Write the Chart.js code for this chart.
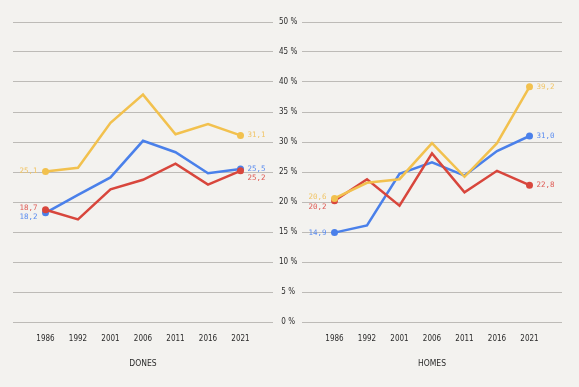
<!DOCTYPE html>
<html>
<head>
<meta charset="utf-8">
<script src="https://cdn.jsdelivr.net/npm/chart.js@4.4.1/dist/chart.umd.min.js"></script>
<style>
  html, body { margin: 0; padding: 0; background: #f3f2ef; }
  #wrap { position: relative; width: 579px; height: 387px; background: #f3f2ef; }
  #c1box { position: absolute; left: 0; top: 0; width: 302px; height: 387px; }
  #c2box { position: absolute; left: 302px; top: 0; width: 277px; height: 387px; }
</style>
</head>
<body>
<div id="wrap">
  <div id="c1box"><canvas id="c1"></canvas></div>
  <div id="c2box"><canvas id="c2"></canvas></div>
</div>
<script>
// ---- data ----
const years = ['1986', '1992', '2001', '2006', '2011', '2016', '2021'];
const yTicks = [0, 5, 10, 15, 20, 25, 30, 35, 40, 45, 50];
const panelTitles = ['DONES', 'HOMES'];

const donesYellow = [25.1, 25.7, 33.2, 37.9, 31.3, 33.0, 31.1];
const donesBlue   = [18.2, 21.2, 24.1, 30.2, 28.3, 24.8, 25.5];
const donesRed    = [18.7, 17.1, 22.1, 23.7, 26.4, 22.9, 25.2];

const homesYellow = [20.6, 23.2, 23.8, 29.8, 24.2, 29.8, 39.2];
const homesBlue   = [14.9, 16.1, 24.7, 26.6, 24.4, 28.5, 31.0];
const homesRed    = [20.2, 23.8, 19.4, 28.1, 21.6, 25.2, 22.8];

// ---- styles ----
const COLORS = { yellow: '#f2c14e', blue: '#4a80ea', red: '#d8463c' };
const LABEL_COLORS = { yellow: '#f1c567', blue: '#5a8cf0', red: '#df5b55' };
const GRID = '#bdbbb7';
const TICK_FONT = "'DejaVu Sans Condensed', 'Liberation Sans Narrow', 'DejaVu Sans', sans-serif";
const LABEL_FONT = "'DejaVu Sans Mono', 'Liberation Mono', monospace";

function fmt(v) { return v.toFixed(1).replace('.', ','); }

function ds(values, key) {
  return {
    data: values.map((v, i) => ({ x: i, y: v })),
    borderColor: COLORS[key],
    backgroundColor: COLORS[key],
    borderWidth: 2.5,
    pointRadius: values.map((v, i) => (i === 0 || i === values.length - 1) ? 3.5 : 0),
    pointHoverRadius: 0,
    pointBorderWidth: 0,
    tension: 0,
    colorKey: key
  };
}

// Label plugin: draws value labels beside first & last points
const endLabels = {
  id: 'endLabels',
  afterDatasetsDraw(chart, args, opts) {
    const ctx = chart.ctx;
    ctx.save();
    ctx.font = '7.5px ' + LABEL_FONT;
    ctx.textBaseline = 'middle';
    chart.data.datasets.forEach((d, di) => {
      const meta = chart.getDatasetMeta(di);
      const n = meta.data.length;
      const first = meta.data[0], last = meta.data[n - 1];
      ctx.fillStyle = LABEL_COLORS[d.colorKey];
      const dyF = (opts.firstDy || [])[di] || 0;
      const dyL = (opts.lastDy || [])[di] || 0;
      ctx.textAlign = 'right';
      ctx.fillText(fmt(d.data[0].y), first.x - 8, first.y + dyF);
      ctx.textAlign = 'left';
      ctx.fillText(fmt(d.data[n - 1].y), last.x + 7, last.y + dyL);
    });
    ctx.restore();
  }
};

function makeChart(canvasId, title, datasets, showY, padding, labelOpts) {
  return new Chart(document.getElementById(canvasId), {
    type: 'line',
    data: { datasets },
    plugins: [endLabels],
    options: {
      responsive: true,
      maintainAspectRatio: false,
      animation: false,
      events: [],
      layout: { padding, autoPadding: false },
      plugins: {
        legend: { display: false },
        tooltip: { enabled: false },
        endLabels: labelOpts
      },
      scales: {
        x: {
          type: 'linear',
          min: -1, max: 7,
          grid: { display: false },
          border: { display: false },
          afterFit(scale) { scale.height = 65; },
          afterBuildTicks(scale) {
            scale.ticks = years.map((y, i) => ({ value: i }));
          },
          ticks: {
            autoSkip: false,
            maxRotation: 0,
            padding: 4,
            color: '#2b2b2b',
            font: { family: TICK_FONT, size: 8 },
            callback: (v) => years[v] !== undefined ? years[v] : ''
          },
          title: {
            display: true,
            text: title,
            color: '#2b2b2b',
            font: { family: TICK_FONT, size: 8.5 },
            padding: { top: 0, bottom: 18 }
          }
        },
        y: {
          position: showY ? 'right' : 'left',
          min: 0, max: 50,
          afterBuildTicks(scale) {
            scale.ticks = yTicks.map(v => ({ value: v }));
          },
          afterFit(scale) { scale.width = showY ? 29 : 0; },
          grid: { color: GRID, lineWidth: 1, drawTicks: false },
          border: { display: false },
          ticks: {
            display: showY,
            crossAlign: 'center',
            padding: 6,
            color: '#2b2b2b',
            font: { family: TICK_FONT, size: 8 },
            callback: (v) => v + ' %'
          }
        }
      }
    }
  });
}

makeChart('c1', panelTitles[0],
  [ds(donesYellow, 'yellow'), ds(donesRed, 'red'), ds(donesBlue, 'blue')],
  true, { left: 13, right: 0, top: 22, bottom: 0 },
  { firstDy: [0, -2, 4], lastDy: [0, 7, 0] });

makeChart('c2', panelTitles[1],
  [ds(homesYellow, 'yellow'), ds(homesRed, 'red'), ds(homesBlue, 'blue')],
  false, { left: 0, right: 17, top: 22, bottom: 0 },
  { firstDy: [-1, 6, 0], lastDy: [0, 0, 0] });
</script>
</body>
</html>
